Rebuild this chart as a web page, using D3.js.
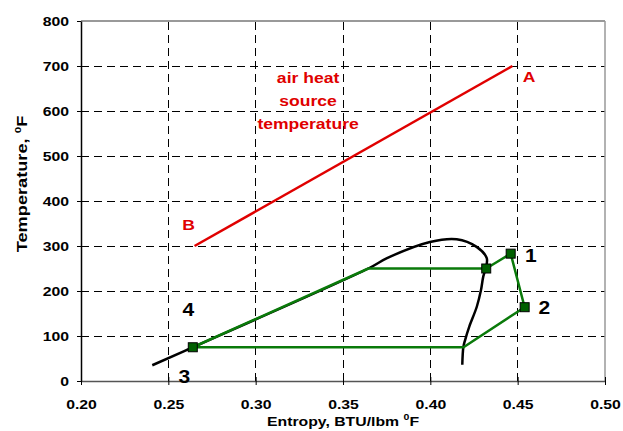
<!DOCTYPE html>
<html><head><meta charset="utf-8">
<script src="https://cdn.jsdelivr.net/npm/d3@7"></script>
<style>body{margin:0;background:#fff}svg{display:block;font-family:Arial,"Liberation Sans",sans-serif}</style>
</head><body><svg id="c" width="623" height="431"></svg>
<script>
const xTicks = [0.20, 0.25, 0.30, 0.35, 0.40, 0.45, 0.50];
const yTicks = [0, 100, 200, 300, 400, 500, 600, 700, 800];
// air heat source line B -> A
const airS = [0.265, 0.447];
const airT = [300, 700];
// saturation dome (black)
const domeS = [0.2408, 0.264, 0.3645, 0.3752, 0.3998, 0.4151, 0.4265, 0.4323, 0.4317, 0.4303, 0.4290, 0.4266, 0.4223, 0.4199, 0.4189, 0.4183];
const domeT = [35, 75, 250, 273, 309, 315, 298, 273, 250, 232, 202, 165, 121, 91, 75, 36];
// cycle (green)
const cycS = [0.264, 0.3645, 0.432, 0.446, 0.454, 0.419, 0.264];
const cycT = [75, 250, 250, 283, 164, 75, 75];
const markS = [0.264, 0.432, 0.446, 0.454];
const markT = [75, 250, 283, 164];
const ptLabels = ["1", "2", "3", "4"];
const ptS = [0.4576, 0.4653, 0.2591, 0.2614];
const ptT = [280, 163, 10, 158];
const airLabels = ["A", "B"];
const airLabS = [0.4566, 0.2616];
const airLabT = [676, 347];
const airText = ["air heat", "source", "temperature"];
const airTextS = 0.3300;
const airTextT = [674, 623, 573];

const svg = d3.select("#c");
const x = d3.scaleLinear().domain([0.2, 0.5]).range([81, 605]);
const y = d3.scaleLinear().domain([0, 800]).range([381, 21]);
const FONT = "Arial, Liberation Sans, sans-serif";
const SX = 1.17; // horizontal stretch of text seen in the reference

function label(parent, px, py, str, size, fill) {
  return parent.append("g").attr("transform", `translate(${px},${py})`)
    .append("text").attr("transform", `scale(${SX},1)`).attr("text-anchor", "middle")
    .attr("font-size", size).attr("font-weight", "bold").attr("font-family", FONT)
    .attr("fill", fill).text(str);
}

// grid
const g = svg.append("g");
g.selectAll(".hg").data(yTicks.filter(v => v > 0 && v < 800)).enter().append("line")
  .attr("x1", x(0.2)).attr("x2", x(0.5)).attr("y1", d => y(d)).attr("y2", d => y(d))
  .attr("stroke", "#000").attr("stroke-width", 1).attr("stroke-dasharray", "8,5").attr("shape-rendering", "crispEdges");
g.selectAll(".vg").data(xTicks.filter(v => v > 0.2 && v < 0.5)).enter().append("line")
  .attr("x1", d => x(d)).attr("x2", d => x(d)).attr("y1", y(0)).attr("y2", y(800))
  .attr("stroke", "#000").attr("stroke-width", 1).attr("stroke-dasharray", "8,5").attr("shape-rendering", "crispEdges");
// frame top/right
g.append("line").attr("x1", x(0.2)).attr("x2", x(0.5)).attr("y1", y(800)).attr("y2", y(800))
  .attr("stroke", "#999").attr("stroke-width", 2);
g.append("line").attr("x1", x(0.5)).attr("x2", x(0.5)).attr("y1", y(800)).attr("y2", y(0))
  .attr("stroke", "#999").attr("stroke-width", 1.5);

// axes
const xa = svg.append("g").attr("transform", `translate(0,${y(0)})`)
  .call(d3.axisBottom(x).tickValues(xTicks).tickFormat(d3.format(".2f")).tickSize(4).tickSizeOuter(0));
xa.select(".domain").attr("stroke", "#555").attr("stroke-width", 1.5);
xa.selectAll(".tick line").attr("stroke", "#000").attr("y1", -4).attr("y2", 4);
xa.selectAll(".tick text").attr("y", 18).attr("transform", `scale(${SX},1)`)
  .attr("font-size", 13.5).attr("font-weight", "bold").attr("fill", "#000").attr("font-family", FONT);

const ya = svg.append("g").attr("transform", `translate(${x(0.2)},0)`)
  .call(d3.axisLeft(y).tickValues(yTicks).tickSize(4).tickSizeOuter(0));
ya.select(".domain").attr("stroke", "#000").attr("stroke-width", 1.5);
ya.selectAll(".tick line").attr("stroke", "#000");
ya.selectAll(".tick text").attr("x", -12 / SX).attr("transform", `scale(${SX},1)`)
  .attr("font-size", 13.5).attr("font-weight", "bold").attr("fill", "#000").attr("font-family", FONT);

// axis titles
const xt = label(svg, 343, 426, "", 13.5, "#000");
xt.append("tspan").text("Entropy, BTU/lbm ");
xt.append("tspan").attr("font-size", 9).attr("dy", -6).text("0");
xt.append("tspan").attr("dy", 6).text("F");
const yt = svg.append("g").attr("transform", "translate(27,184) rotate(-90)")
  .append("text").attr("transform", "scale(1.3,1)").attr("text-anchor", "middle")
  .attr("font-size", 14).attr("font-weight", "bold").attr("font-family", FONT);
yt.append("tspan").text("Temperature, ");
yt.append("tspan").attr("font-size", 9).attr("dy", -6).text("0");
yt.append("tspan").attr("dy", 6).text("F");

// air line
const line = d3.line().x(d => x(d[0])).y(d => y(d[1]));
svg.append("path").datum(airS.map((s, i) => [s, airT[i]])).attr("d", line)
  .attr("fill", "none").attr("stroke", "#e00000").attr("stroke-width", 2.5);
airLabels.forEach((t, i) => label(svg, x(airLabS[i]), y(airLabT[i]) + 5.5, t, 15, "#e00000"));
airText.forEach((t, i) => label(svg, x(airTextS), y(airTextT[i]) + 5.5, t, 15, "#e00000"));

// dome
svg.append("path").datum(domeS.map((s, i) => [s, domeT[i]]))
  .attr("d", d3.line().x(d => x(d[0])).y(d => y(d[1])).curve(d3.curveCatmullRom.alpha(0.5)))
  .attr("fill", "none").attr("stroke", "#000").attr("stroke-width", 2.5);

// cycle
svg.append("path").datum(cycS.map((s, i) => [s, cycT[i]])).attr("d", line)
  .attr("fill", "none").attr("stroke", "#0a7a0a").attr("stroke-width", 2.5).attr("stroke-linejoin", "round");
svg.append("g").selectAll("rect").data(markS.map((s, i) => [s, markT[i]])).enter().append("rect")
  .attr("x", d => x(d[0]) - 4.5).attr("y", d => y(d[1]) - 4.5).attr("width", 9).attr("height", 9)
  .attr("fill", "#006000").attr("stroke", "#000").attr("stroke-width", 1);

// point labels
ptLabels.forEach((t, i) => label(svg, x(ptS[i]), y(ptT[i]) + 6.5, t, 18, "#000"));
</script></body></html>
